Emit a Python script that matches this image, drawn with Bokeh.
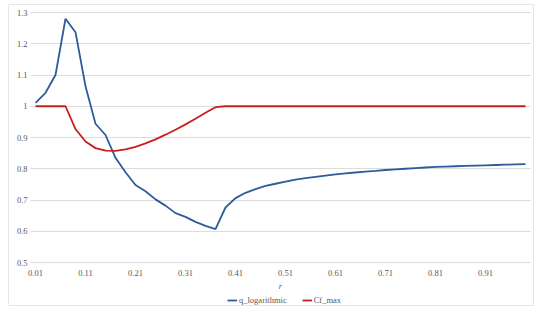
from bokeh.plotting import figure
from bokeh.models import Range1d, FixedTicker, Legend, LegendItem
from bokeh.embed import file_html
from bokeh.resources import INLINE

r_values = [0.01, 0.03, 0.05, 0.07, 0.09, 0.11, 0.13, 0.15, 0.17, 0.19,
            0.21, 0.23, 0.25, 0.27, 0.29, 0.31, 0.33, 0.35, 0.37, 0.39,
            0.41, 0.43, 0.45, 0.47, 0.49, 0.51, 0.53, 0.55, 0.57, 0.59,
            0.61, 0.63, 0.65, 0.67, 0.69, 0.71, 0.73, 0.75, 0.77, 0.79,
            0.81, 0.83, 0.85, 0.87, 0.89, 0.91, 0.93, 0.95, 0.97, 0.99]

q_logarithmic = [1.011, 1.043, 1.100, 1.280, 1.237, 1.064, 0.944, 0.908, 0.835, 0.789,
                 0.748, 0.728, 0.702, 0.682, 0.658, 0.646, 0.630, 0.617, 0.607, 0.676,
                 0.706, 0.723, 0.735, 0.745, 0.752, 0.759, 0.765, 0.770, 0.774, 0.778,
                 0.782, 0.785, 0.788, 0.791, 0.793, 0.796, 0.798, 0.800, 0.802, 0.804,
                 0.806, 0.807, 0.808, 0.809, 0.810, 0.811, 0.812, 0.813, 0.814, 0.815]

cf_max = [1.0, 1.0, 1.0, 1.0, 0.927, 0.887, 0.866, 0.858, 0.857, 0.862,
          0.870, 0.881, 0.894, 0.909, 0.925, 0.942, 0.960, 0.979, 0.997, 1.0,
          1.0, 1.0, 1.0, 1.0, 1.0, 1.0, 1.0, 1.0, 1.0, 1.0,
          1.0, 1.0, 1.0, 1.0, 1.0, 1.0, 1.0, 1.0, 1.0, 1.0,
          1.0, 1.0, 1.0, 1.0, 1.0, 1.0, 1.0, 1.0, 1.0, 1.0]

x_ticks = [0.01, 0.11, 0.21, 0.31, 0.41, 0.51, 0.61, 0.71, 0.81, 0.91]
x_tick_labels = ["0.01", "0.11", "0.21", "0.31", "0.41", "0.51", "0.61", "0.71", "0.81", "0.91"]
y_ticks = [0.5, 0.6, 0.7, 0.8, 0.9, 1.0, 1.1, 1.2, 1.3]
y_tick_labels = ["0.5", "0.6", "0.7", "0.8", "0.9", "1", "1.1", "1.2", "1.3"]

FONT = "Liberation Serif"
TXT = "#595959"

# frame = chart box (with its light border); plot area 0..1 x 0.5..1.3 sits inside it
XPX = 1.0 / 500
YPX = 0.8 / 250
p = figure(width=534, height=306, output_backend="svg", toolbar_location=None,
           x_range=Range1d(0.0 - 22 * XPX, 1.0 + 4 * XPX),
           y_range=Range1d(0.5 - 44 * YPX, 1.3 + 8 * YPX),
           min_border_left=8, min_border_right=0, min_border_top=4, min_border_bottom=0,
           x_axis_label="r")
p.outline_line_color = "#e6e6e6"
p.outline_line_width = 1
p.background_fill_color = "white"
p.border_fill_color = "white"

p.xgrid.visible = False
p.ygrid.grid_line_color = "#dcdcdc"
p.ygrid.grid_line_width = 1
p.ygrid.cross_bounds = (0.0, 1.0)

p.xaxis.ticker = FixedTicker(ticks=x_ticks)
p.xaxis.major_label_overrides = dict(zip(x_ticks, x_tick_labels))
p.yaxis.ticker = FixedTicker(ticks=y_ticks)
p.yaxis.major_label_overrides = dict(zip(y_ticks, y_tick_labels))
p.xaxis.fixed_location = 0.5
p.yaxis.fixed_location = 0.0
p.xaxis.bounds = (0.0, 1.0)
p.yaxis.bounds = (0.5, 1.3)

for ax in (p.xaxis, p.yaxis):
    ax.axis_line_color = None
    ax.major_tick_line_color = None
    ax.minor_tick_line_color = None
    ax.major_label_text_font = FONT
    ax.major_label_text_font_size = "8.5px"
    ax.major_label_text_color = TXT

p.yaxis.major_label_standoff = -3
p.xaxis.major_label_standoff = 1
p.xaxis.axis_label_standoff = 2
p.xaxis.axis_label_text_font = FONT
p.xaxis.axis_label_text_font_size = "8.5px"
p.xaxis.axis_label_text_font_style = "italic"
p.xaxis.axis_label_text_color = TXT

r1 = p.line(r_values, q_logarithmic, line_color="#2f5b9b", line_width=1.8)
r2 = p.line(r_values, cf_max, line_color="#c81e1e", line_width=1.8)

legend = Legend(items=[LegendItem(label="q_logarithmic", renderers=[r1]),
                       LegendItem(label="Cf_max", renderers=[r2])],
                orientation="horizontal", location=(219, 1),
                border_line_color=None, background_fill_alpha=0,
                padding=0, margin=0, spacing=15,
                glyph_width=10, glyph_height=10, label_standoff=2,
                label_height=10,
                label_text_font=FONT, label_text_font_size="8.5px",
                label_text_color=TXT)
p.add_layout(legend, "center")

open("out.html", "w").write(file_html(p, INLINE))
